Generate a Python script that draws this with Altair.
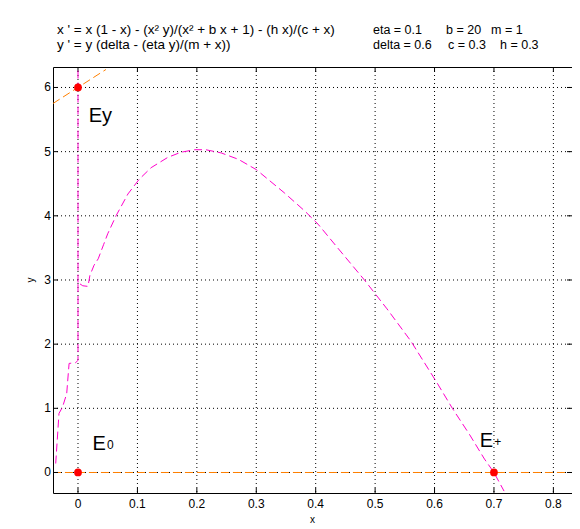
import altair as alt
import pandas as pd

# ---------------- data ----------------
# x-nullcline contour (magenta), main branch
curve_x = [-0.0375, -0.032, -0.026, -0.019, -0.015, -0.004, 0.0, 0.0, 0.008, 0.0168,
           0.020, 0.027, 0.034, 0.043, 0.050, 0.064, 0.084, 0.103, 0.123, 0.151,
           0.173, 0.196, 0.215, 0.241, 0.270, 0.300, 0.347, 0.381, 0.404, 0.437,
           0.482, 0.520, 0.560, 0.604, 0.630, 0.659, 0.684, 0.700, 0.717]
curve_y = [0.14, 0.92, 1.02, 1.23, 1.70, 1.71, 1.75, 2.96, 2.91, 2.90,
           3.07, 3.23, 3.33, 3.55, 3.72, 4.00, 4.34, 4.57, 4.75, 4.91,
           4.99, 5.03, 5.03, 4.98, 4.88, 4.72, 4.36, 4.08, 3.87, 3.50,
           3.00, 2.55, 2.05, 1.40, 1.00, 0.59, 0.21, 0.00, -0.29]
# x-nullcline x = 0 (magenta), upper part
vert_x = [0.0, 0.0]
vert_y = [2.96, 6.32]
# y-nullclines (orange)
ynull_top_x = [-0.0422, 0.047]
ynull_top_y = [5.75, 6.28]
ynull_zero_x = [-0.0422, 0.84]
ynull_zero_y = [0.0, 0.0]
# equilibria
eq_x = [0.0, 0.0, 0.7]
eq_y = [0.0, 6.0, 0.0]
# equilibrium labels
lab_main = ["E", "Ey", "E"]
lab_sub = ["0", "", "+"]
lab_x = [0.0242, 0.018, 0.676]
lab_y = [0.35, 5.46, 0.40]

x_ticks = [0, 0.1, 0.2, 0.3, 0.4, 0.5, 0.6, 0.7, 0.8]
y_ticks = [0, 1, 2, 3, 4, 5, 6]
x_dom = [-0.04207, 0.83132]
y_dom = [-0.3195, 6.3191]

title_left = ["x ' = x (1 - x) - (x\u00b2 y)/(x\u00b2 + b x + 1) - (h x)/(c + x)",
              "y ' = y (delta - (eta y)/(m + x))"]
param_col1 = ["eta = 0.1", "delta = 0.6"]
param_col2 = ["b = 20", "c = 0.3"]
param_col3 = ["m = 1", "h = 0.3"]

W, H = 519, 426
FONT = "Liberation Sans"
MAGENTA = "#ff00cc"
ORANGE = "#ff8000"

xs = alt.Scale(domain=x_dom, nice=False, zero=False)
ys = alt.Scale(domain=y_dom, nice=False, zero=False)

X = alt.X("x:Q", scale=xs, title="x",
          axis=alt.Axis(values=x_ticks, format="~g", titlePadding=5, labelPadding=6))
Y = alt.Y("y:Q", scale=ys, title="y",
          axis=alt.Axis(values=y_ticks, format="d", titlePadding=8))

curve_df = pd.DataFrame({"x": curve_x, "y": curve_y, "o": range(len(curve_x))})
vert_df = pd.DataFrame({"x": vert_x, "y": vert_y, "o": range(2)})
top_df = pd.DataFrame({"x": ynull_top_x, "y": ynull_top_y, "o": range(2)})
zero_df = pd.DataFrame({"x": ynull_zero_x, "y": ynull_zero_y, "o": range(2)})
eq_df = pd.DataFrame({"x": eq_x, "y": eq_y})
lab_df = pd.DataFrame({"x": lab_x, "y": lab_y, "m": lab_main, "s": lab_sub})

XT = alt.X("x:Q", scale=xs)
YT = alt.Y("y:Q", scale=ys)
xt_df = pd.DataFrame({"x": x_ticks})
yt_df = pd.DataFrame({"y": y_ticks})

# dotted grid, drawn first (below everything)
gx = alt.Chart(xt_df).mark_rule(color="black", strokeDash=[1, 3]).encode(
    x=XT, y=alt.value(0), y2=alt.value(H))
gy = alt.Chart(yt_df).mark_rule(color="black", strokeDash=[1, 3]).encode(
    y=YT, x=alt.value(0), x2=alt.value(W))

def line(df, color, sw=1.0):
    return alt.Chart(df).mark_line(color=color, strokeWidth=sw, strokeDash=[8, 4],
                                   clip=True).encode(x=X, y=Y, order="o:Q")

curve = line(curve_df, MAGENTA)
vert = line(vert_df, MAGENTA)
topl = line(top_df, ORANGE)
zerol = line(zero_df, ORANGE)

pts = alt.Chart(eq_df).mark_point(filled=True, color="#ff0000", size=60,
                                  opacity=1).encode(x=X, y=Y)

lab_big = alt.Chart(lab_df).mark_text(align="left", baseline="alphabetic",
                                      font=FONT, fontSize=20, color="black").encode(
    x=X, y=Y, text="m:N")
lab_small = alt.Chart(lab_df).mark_text(align="left", baseline="alphabetic",
                                        font=FONT, fontSize=12, color="black",
                                        dx=14.5, dy=-1).encode(
    x=X, y=Y, text="s:N")

# inward ticks on all four sides
tb = alt.Chart(xt_df).mark_rule(color="black").encode(x=XT, y=alt.value(H), y2=alt.value(H - 5))
tt = alt.Chart(xt_df).mark_rule(color="black").encode(x=XT, y=alt.value(0), y2=alt.value(5))
tl = alt.Chart(yt_df).mark_rule(color="black").encode(y=YT, x=alt.value(0), x2=alt.value(5))
tr = alt.Chart(yt_df).mark_rule(color="black").encode(y=YT, x=alt.value(W), x2=alt.value(W - 5))

# header text
def header(texts, pxs, fs):
    d = pd.DataFrame({"t": texts, "py": [-37, -22], "px": pxs})
    return alt.Chart(d).mark_text(align="left", baseline="middle", font=FONT,
                                  fontSize=fs, color="black").encode(
        x=alt.X("px:Q", scale=None), y=alt.Y("py:Q", scale=None), text="t:N")

h1 = header(title_left, [4, 4], 13.5)
h2 = header(param_col1, [320, 320], 12.5)
h3 = header(param_col2, [393, 395], 12.5)
h4 = header(param_col3, [438, 447], 12.5)

chart = alt.layer(
    gx, gy, zerol, topl, curve, tb, tt, tl, tr, vert, pts, lab_big, lab_small,
    h1, h2, h3, h4
).properties(
    width=W, height=H,
    autosize=alt.AutoSizeParams(type="none"),
    padding={"left": 45, "top": 59, "right": 0, "bottom": 33},
).configure_view(
    stroke="black", strokeWidth=1
).configure_axis(
    grid=False, domain=False, ticks=False, translate=0,
    labelFont=FONT, labelFontSize=12, labelColor="black",
    titleFont=FONT, titleFontSize=10, titleFontWeight="normal", titleColor="black",
)

chart.save("out.html", embed_options={"renderer": "svg", "actions": False})
